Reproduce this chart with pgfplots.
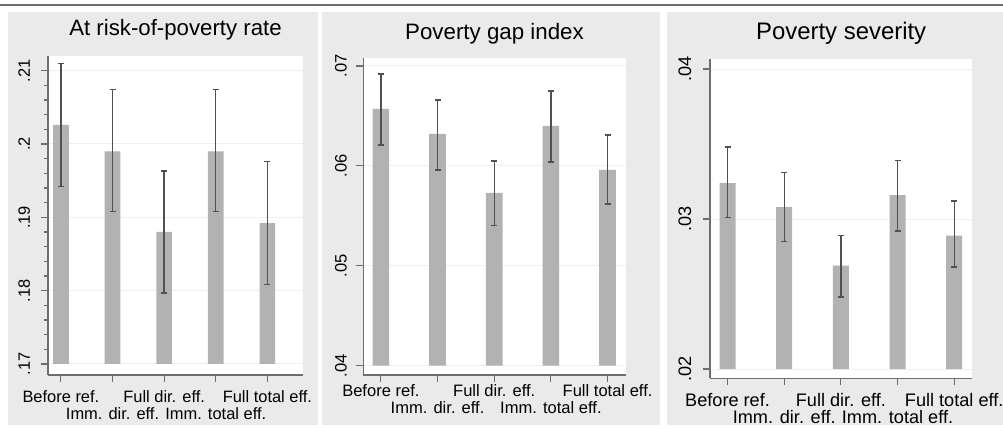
\documentclass[border=0pt]{standalone}
\usepackage{fontspec}
\setmainfont{Liberation Sans}
\usepackage{pgfplots}
\pgfplotsset{compat=1.18}
\usepackage{pgfplotstable}

\definecolor{panelbg}{RGB}{234,234,234}
\definecolor{barcol}{RGB}{178,178,178}
\definecolor{errcol}{RGB}{80,80,80}
\definecolor{axcol}{RGB}{110,110,110}
\definecolor{gridcol}{RGB}{239,239,239}

\pgfplotstableread{
x v lo hi
1 0.2026 0.1942 0.2110
2 0.1990 0.1908 0.2074
3 0.1880 0.1797 0.1963
4 0.1990 0.1908 0.2074
5 0.1892 0.1808 0.1976
}\ratedata

\pgfplotstableread{
x v lo hi
1 0.0657 0.0621 0.0692
2 0.0632 0.0596 0.0666
3 0.0573 0.0540 0.0605
4 0.0640 0.0604 0.0675
5 0.0596 0.0562 0.0631
}\gapdata

\pgfplotstableread{
x v lo hi
1 0.0324 0.0301 0.0348
2 0.0308 0.0285 0.0331
3 0.0269 0.0248 0.0289
4 0.0316 0.0292 0.0339
5 0.0289 0.0268 0.0312
}\sevdata

\pgfplotsset{
  stata/.style={
    scale only axis,
    anchor=south west,
    axis x line*=bottom,
    axis y line*=left,
    axis line style={axcol, line width=1.3bp, -},
    axis background/.style={fill=white},
    tick align=outside,
    major tick length=7bp,
    minor tick length=4bp,
    tick style={axcol, line width=1.1bp},
    scaled y ticks=false,
    ymajorgrids,
    major grid style={gridcol, line width=1bp},
    ybar stacked,
    xtick={1,3,5},
    xticklabels={Before ref., Full dir. eff., Full total eff.},
    extra x ticks={2,4},
    extra x tick labels={Imm. dir. eff., Imm. total eff.},
    xticklabel style={anchor=base},
    title style={at={(0.5,1)}, anchor=base},
  },
  errax/.style={
    scale only axis,
    anchor=south west,
    hide axis,
  },
}

\newcommand{\errplot}[1]{%
  \addplot[draw=none, mark=none,
    error bars/.cd, y dir=both, y explicit,
    error bar style={draw=errcol, line width=1.3bp, solid},
    error mark options={draw=errcol, line width=1.3bp, mark size=3bp, rotate=90}]
    table[x=x, y=v, y error plus expr=\thisrow{hi}-\thisrow{v}, y error minus expr=\thisrow{v}-\thisrow{lo}] {#1};}

\begin{document}
\begin{tikzpicture}
\path[use as bounding box] (0,0) rectangle (1003bp,429bp);
\fill[white] (0,0) rectangle (1003bp,429bp);
\draw[axcol, line width=1.3bp] (0,424bp) -- (1003bp,424bp);
\fill[panelbg] (8bp,4bp) rectangle (318bp,417bp);
\fill[panelbg] (322bp,4bp) rectangle (660bp,417bp);
\fill[panelbg] (667bp,4bp) rectangle (1003bp,417bp);

% Panel 1
\begin{axis}[stata, at={(48bp,54bp)}, width=255bp, height=319bp,
  xmin=0.75, xmax=5.69, ymin=0.1685, ymax=0.2120,
  bar width=15.7bp,
  ytick={0.17,0.18,0.19,0.2,0.21}, yticklabels={.17,.18,.19,.2,.21},
  minor y tick num=4,
  yticklabel style={font=\fontsize{16.5}{16.5}\selectfont, xshift=-11bp, rotate=90, anchor=base},
  xticklabel style={font=\fontsize{16.5}{16.5}\selectfont, yshift=-20.7bp},
  extra x tick style={xticklabel style={yshift=-16.6bp}},
  title={At risk-of-poverty rate},
  title style={font=\fontsize{22.3}{22.3}\selectfont, yshift=14.3bp}]
\addplot[draw=none, fill=none] table[x=x, y expr=0.17] {\ratedata};
\addplot[draw=none, fill=barcol] table[x=x, y expr=\thisrow{v}-0.17] {\ratedata};
\end{axis}
\begin{axis}[errax, at={(48bp,54bp)}, width=255bp, height=319bp,
  xmin=0.75, xmax=5.69, ymin=0.1685, ymax=0.2120]
\errplot{\ratedata}
\end{axis}

% Panel 2
\begin{axis}[stata, at={(363.3bp,54bp)}, width=262.4bp, height=317bp,
  xmin=0.69, xmax=5.32, ymin=0.03907, ymax=0.0708,
  bar width=16.7bp,
  ytick={0.04,0.05,0.06,0.07}, yticklabels={.04,.05,.06,.07},
  yticklabel style={font=\fontsize{16.6}{16.6}\selectfont, xshift=-9.6bp, rotate=90, anchor=base},
  xticklabel style={font=\fontsize{16.6}{16.6}\selectfont, yshift=-14.7bp},
  extra x tick style={xticklabel style={yshift=-16.6bp}},
  title={Poverty gap index},
  title style={font=\fontsize{22.4}{22.4}\selectfont, yshift=13bp}]
\addplot[draw=none, fill=none] table[x=x, y expr=0.04] {\gapdata};
\addplot[draw=none, fill=barcol] table[x=x, y expr=\thisrow{v}-0.04] {\gapdata};
\end{axis}
\begin{axis}[errax, at={(363.3bp,54bp)}, width=262.4bp, height=317bp,
  xmin=0.69, xmax=5.32, ymin=0.03907, ymax=0.0708]
\errplot{\gapdata}
\end{axis}

% Panel 3
\begin{axis}[stata, at={(710bp,50.7bp)}, width=262.3bp, height=319bp,
  xmin=0.69, xmax=5.32, ymin=0.01938, ymax=0.04065,
  bar width=16bp,
  ytick={0.02,0.03,0.04}, yticklabels={.02,.03,.04},
  yticklabel style={font=\fontsize{18.2}{18.2}\selectfont, xshift=-12bp, rotate=90, anchor=base},
  xticklabel style={font=\fontsize{18.2}{18.2}\selectfont, yshift=-21.4bp},
  extra x tick style={xticklabel style={yshift=-16.6bp}},
  title={Poverty severity},
  title style={font=\fontsize{24}{24}\selectfont, yshift=14.3bp}]
\addplot[draw=none, fill=none] table[x=x, y expr=0.02] {\sevdata};
\addplot[draw=none, fill=barcol] table[x=x, y expr=\thisrow{v}-0.02] {\sevdata};
\end{axis}
\begin{axis}[errax, at={(710bp,50.7bp)}, width=262.3bp, height=319bp,
  xmin=0.69, xmax=5.32, ymin=0.01938, ymax=0.04065]
\errplot{\sevdata}
\end{axis}
\end{tikzpicture}
\end{document}
